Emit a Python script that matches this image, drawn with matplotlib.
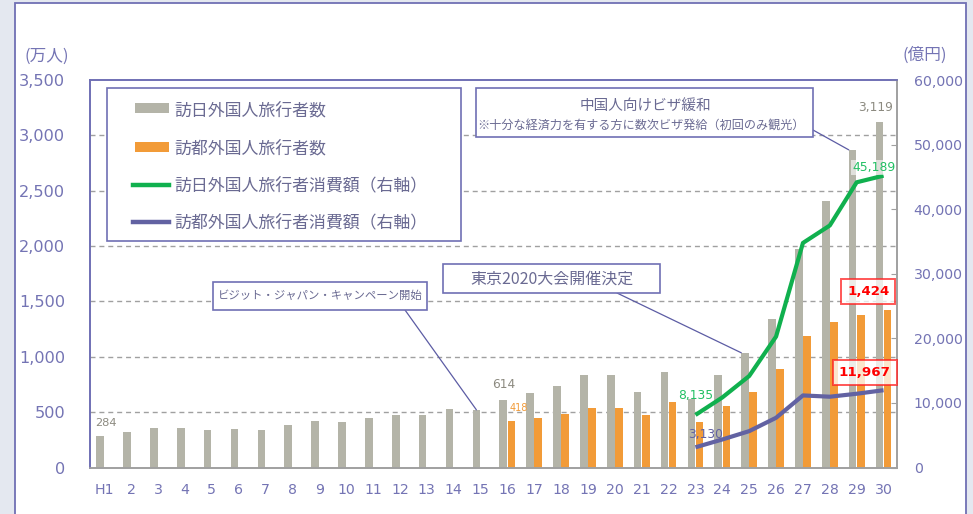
import numpy as np
import matplotlib
matplotlib.use('Agg')
import matplotlib.pyplot as plt
from matplotlib.patches import Rectangle
from matplotlib.lines import Line2D

plt.rcParams['font.family'] = ['Noto Sans CJK JP', 'DejaVu Sans']
NUM = 'DejaVu Sans'

# data (H1 - H30)
years = ['H1'] + [str(i) for i in range(2, 31)]
visitors_japan = [284, 324, 354, 358, 341, 347, 335, 384, 422, 411, 444, 476, 477, 524, 521,
                  614, 673, 733, 835, 835, 679, 861, 622, 836, 1036, 1341, 1974, 2404, 2869, 3119]
visitors_tokyo = [np.nan] * 15 + [418, 450, 481, 533, 534, 476, 594, 413, 556, 681, 887,
                                  1189, 1310, 1377, 1424]
spend_japan = [np.nan] * 22 + [8135, 10846, 14167, 20278, 34771, 37476, 44162, 45189]
spend_tokyo = [np.nan] * 22 + [3130, 4340, 5630, 7700, 11160, 10960, 11420, 11967]

legend_labels = ['訪日外国人旅行者数', '訪都外国人旅行者数',
                 '訪日外国人旅行者消費額（右軸）', '訪都外国人旅行者消費額（右軸）']

c_gray = '#b4b4a8'
c_orange = '#f29b38'
c_green = '#10b04e'
c_purple = '#6262a2'
c_tick = '#7474b4'
c_text = '#6a6a92'
c_frame = '#7070b4'

W, H = 973, 514
fig = plt.figure(figsize=(W / 100, H / 100), dpi=100)
fig.patch.set_facecolor('#e4e8f0')


def fx(px):
    return px / W


def fy(py):
    return 1 - py / H


def fbox(x0, y0, x1, y1, **kw):
    r = Rectangle((fx(x0), fy(y1)), fx(x1) - fx(x0), fy(y0) - fy(y1),
                  transform=fig.transFigure, **kw)
    fig.add_artist(r)
    return r


# outer frame
fbox(15, 2.5, 966, 530, facecolor='white', edgecolor=c_frame, lw=1.3, zorder=-1)

ax = fig.add_axes([fx(90), fy(467.5), fx(897) - fx(90), fy(80) - fy(467.5)])
ax.set_facecolor('none')
ax2 = ax.twinx()

x = np.arange(len(years))
bw = 0.285
off = 0.152
ax.bar(x - off, visitors_japan, bw, color=c_gray, zorder=2)
ax.bar(x + off, visitors_tokyo, bw, color=c_orange, zorder=2)
ax2.plot(x, spend_japan, color=c_green, lw=3.0, solid_capstyle='butt', zorder=3)
ax2.plot(x, spend_tokyo, color=c_purple, lw=3.0, solid_capstyle='butt', zorder=3)

ax.set_xlim(-0.53, 29.5)
ax.set_ylim(0, 3500)
ax2.set_ylim(0, 60000)
ax.set_yticks(range(0, 3501, 500))
ax.set_yticklabels([f'{v:,}' for v in range(0, 3501, 500)], family=NUM)
ax2.set_yticks(range(0, 60001, 10000))
ax2.set_yticklabels([f'{v:,}' for v in range(0, 60001, 10000)], family=NUM)
ax.set_xticks(x)
ax.set_xticklabels(years, family=NUM)

for v in range(500, 3001, 500):
    ax.axhline(v, color='#a0a0a0', lw=1.0, ls=(0, (3.6, 2.8)), zorder=1)

ax.tick_params(axis='y', length=0, pad=18, labelsize=11.6, labelcolor=c_tick)
ax.tick_params(axis='x', length=0, pad=11.5, labelsize=10.2, labelcolor=c_tick)
ax2.tick_params(axis='y', direction='in', length=4, color='#a0a0a0', pad=12,
                labelsize=10.2, labelcolor=c_tick)

for a in (ax, ax2):
    a.spines['left'].set_color(c_frame)
    a.spines['top'].set_color(c_frame)
    a.spines['bottom'].set_color('#a0a0a0')
    a.spines['right'].set_color('#a0a0a0')
    for s in a.spines.values():
        s.set_linewidth(1.2)

fig.text(fx(47), fy(56), '(万人)', ha='center', va='center', fontsize=12, color=c_tick)
fig.text(fx(925), fy(55), '(億円)', ha='center', va='center', fontsize=12, color=c_tick)

# data labels
def lab(axis, xi, val, text, dx, dy, **kw):
    axis.annotate(text, (xi, val), xytext=(dx, dy), textcoords='offset pixels',
                  ha='center', va='center', zorder=6, family=NUM, **kw)

lab(ax, x[0] - off, visitors_japan[0], f'{visitors_japan[0]:,}', 6, 13, fontsize=8.2, color='#8c8a80')
lab(ax, x[15] - off, visitors_japan[15], f'{visitors_japan[15]:,}', 0, 15, fontsize=8.8, color='#8c8a80')
lab(ax, x[15] + off, visitors_tokyo[15], f'{visitors_tokyo[15]:,}', 7, 13, fontsize=7, color=c_orange)
lab(ax, x[29] - off, visitors_japan[29], f'{visitors_japan[29]:,}', -4, 15, fontsize=8.8, color='#8c8a80')
lab(ax2, x[22], spend_japan[22], f'{spend_japan[22]:,}', 0, 19, fontsize=8.8, color='#22c064')
lab(ax2, x[29], spend_japan[29], f'{spend_japan[29]:,}', -10, 8, fontsize=8.9, color='#22c064',
    bbox=dict(boxstyle='square,pad=0.1', fc='white', ec='none', alpha=0.6))
lab(ax2, x[22], spend_tokyo[22], f'{spend_tokyo[22]:,}', 10, 13, fontsize=8.8, color=c_purple)
lab(ax, x[29] + off, visitors_tokyo[29], f'{visitors_tokyo[29]:,}', -19.5, 18.5, fontsize=9.6,
    color='#ff0000', fontweight='bold',
    bbox=dict(boxstyle='square,pad=0.45', fc='white', ec='#ff2020', lw=1.4, alpha=0.75))
lab(ax2, x[29], spend_tokyo[29], f'{spend_tokyo[29]:,}', -19, 18, fontsize=9.6,
    color='#ff0000', fontweight='bold',
    bbox=dict(boxstyle='square,pad=0.45', fc='white', ec='#ff2020', lw=1.4, alpha=0.75))

# legend (drawn by hand to match the box)
fbox(107, 88, 461, 241, facecolor='white', edgecolor=c_frame, lw=1.2, zorder=5)
fbox(135, 103, 169, 113, facecolor=c_gray, edgecolor='none', zorder=6)
fbox(135, 142, 169, 152, facecolor=c_orange, edgecolor='none', zorder=6)
fig.add_artist(Line2D([fx(133), fx(169)], [fy(184.5), fy(184.5)], color=c_green, lw=3.2,
                      transform=fig.transFigure, zorder=6))
fig.add_artist(Line2D([fx(133), fx(169)], [fy(221.5), fy(221.5)], color=c_purple, lw=3.2,
                      transform=fig.transFigure, zorder=6))
for lbl, py in zip(legend_labels, [110, 148, 185, 222]):
    fig.text(fx(174), fy(py), lbl, ha='left', va='center', fontsize=12.2, color=c_text, zorder=7)

# callouts
def leader(xy_data, px, py):
    ax.annotate('', xy=xy_data, xytext=(px, H - py), textcoords='figure pixels',
                arrowprops=dict(arrowstyle='-', color='#5c5ca4', lw=0.9,
                                shrinkA=0, shrinkB=0), zorder=4)

fbox(476, 88, 813, 137, facecolor='white', edgecolor=c_frame, lw=1.2, zorder=5)
fig.text(fx(645), fy(106), '中国人向けビザ緩和', ha='center', va='center', fontsize=10.5,
         color=c_text, zorder=7)
fig.text(fx(641), fy(125), '※十分な経済力を有する方に数次ビザ発給（初回のみ観光）', ha='center',
         va='center', fontsize=8.7, color=c_text, zorder=7)
leader((x[28] - off - bw / 2, visitors_japan[28]), 813, 130)

fbox(213, 282, 427, 310, facecolor='white', edgecolor=c_frame, lw=1.2, zorder=5)
fig.text(fx(320), fy(296), 'ビジット・ジャパン・キャンペーン開始', ha='center', va='center',
         fontsize=8.2, color=c_text, zorder=7)
leader((x[14] - off, visitors_japan[14]), 405, 310)

fbox(443, 264, 660, 293, facecolor='white', edgecolor=c_frame, lw=1.2, zorder=5)
fig.text(fx(551.5), fy(279), '東京2020大会開催決定', ha='center', va='center',
         fontsize=11.5, color=c_text, zorder=7)
leader((x[24] - off - bw / 2, visitors_japan[24]), 617, 293)

fig.savefig('out.png', dpi=100, facecolor=fig.get_facecolor())
